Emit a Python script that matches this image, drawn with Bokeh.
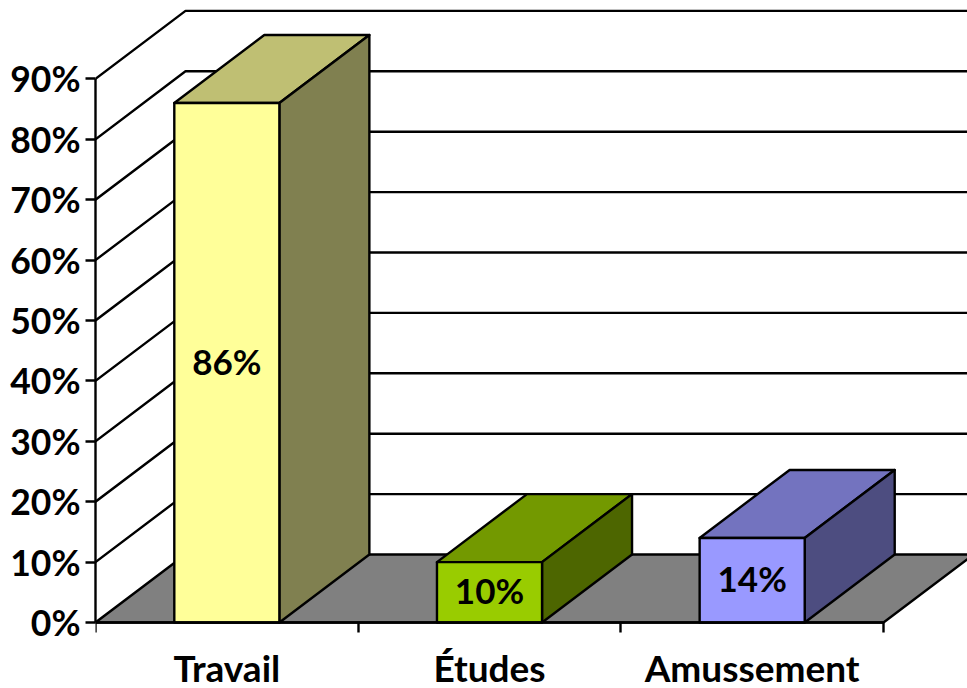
from bokeh.plotting import figure
from bokeh.embed import file_html
from bokeh.resources import INLINE
from bokeh.models import Range1d, LinearAxis, FixedTicker, NumeralTickFormatter, ColumnDataSource
from bokeh.core.properties import value

categories = ["Travail", "Études", "Amussement"]
shares = [0.86, 0.10, 0.14]
labels = ["86%", "10%", "14%"]
front_colors = ["#FFFF99", "#99CC00", "#9999FF"]
top_colors = ["#BFBF73", "#739900", "#7373BF"]
side_colors = ["#808050", "#4D6600", "#4D4D80"]
y_ticks = [0.0, 0.1, 0.2, 0.3, 0.4, 0.5, 0.6, 0.7, 0.8, 0.9]

W, H = 967, 688
LEFT, BOTTOM_Y = 95, 622
CAT_PX, VAL_PX = 262.67, 604.0
DX, DY = 90 / CAT_PX, 68 / VAL_PX
BAR_W = 0.4
FONT = "Lato"
LW = 2.4

xmax = (W - LEFT) / CAT_PX
ymax = BOTTOM_Y / VAL_PX
ymin = -(H - BOTTOM_Y) / VAL_PX

p = figure(width=W, height=H, output_backend="svg", toolbar_location=None,
           x_range=Range1d(0, xmax), y_range=Range1d(ymin, ymax),
           x_axis_type=None, y_axis_type=None,
           min_border_left=LEFT, min_border_right=0, min_border_top=0,
           min_border_bottom=0)
p.grid.visible = False
p.outline_line_color = None

# wall grid lines: oblique from the axis, then along the back wall
for v in y_ticks[1:]:
    p.line([0, DX, xmax], [v, v + DY, v + DY], line_color="black", line_width=LW)

# floor
p.patch([0, 3, 3 + DX, DX], [0, 0, DY, DY], fill_color="#808080",
        line_color="black", line_width=LW)

# bars
for i, (s, f, t, d) in enumerate(zip(shares, front_colors, top_colors, side_colors)):
    x0 = i + 0.5 - BAR_W / 2
    x1 = i + 0.5 + BAR_W / 2
    p.patch([x0, x1, x1 + DX, x0 + DX], [s, s, s + DY, s + DY], fill_color=t,
            line_color="black", line_width=LW, line_join="round")
    p.patch([x1, x1 + DX, x1 + DX, x1], [0, DY, s + DY, s], fill_color=d,
            line_color="black", line_width=LW, line_join="round")
    p.patch([x0, x1, x1, x0], [0, 0, s, s], fill_color=f,
            line_color="black", line_width=LW, line_join="round")

src = ColumnDataSource(dict(x=[i + 0.5 for i in range(3)], y=[s / 2 for s in shares], t=labels))
p.text("x", "y", "t", source=src, text_font=value(FONT), text_font_style="bold",
       text_font_size="35px", text_color="black", text_align="center", text_baseline="middle",
       y_offset=-2)

yax = LinearAxis(ticker=FixedTicker(ticks=y_ticks), formatter=NumeralTickFormatter(format="0%"),
                 bounds=(0, 0.9))
yax.major_label_text_font = FONT
yax.major_label_text_font_style = "bold"
yax.major_label_text_font_size = "35.5px"
yax.major_label_text_color = "black"
yax.major_tick_out = 10
yax.major_tick_in = 0
yax.minor_tick_line_color = None
yax.major_tick_line_width = LW
yax.major_tick_line_color = "black"
yax.axis_line_width = LW
yax.axis_line_color = "black"
yax.major_label_standoff = 5
p.add_layout(yax, "left")

xax = LinearAxis(ticker=FixedTicker(ticks=[0.5, 1.5, 2.5], minor_ticks=[0, 1, 2, 3]),
                 bounds=(0, 3), fixed_location=0)
xax.major_label_overrides = {i + 0.5: c for i, c in enumerate(categories)}
xax.major_label_text_font = FONT
xax.major_label_text_font_style = "bold"
xax.major_label_text_font_size = "37px"
xax.major_label_text_color = "black"
xax.major_tick_line_color = None
xax.major_tick_out = 0
xax.major_tick_in = 0
xax.minor_tick_out = 10
xax.minor_tick_in = 0
xax.minor_tick_line_width = LW
xax.minor_tick_line_color = "black"
xax.axis_line_width = LW
xax.axis_line_color = "black"
xax.major_label_standoff = 12
p.add_layout(xax, "below")

open("out.html", "w").write(file_html(p, INLINE))
